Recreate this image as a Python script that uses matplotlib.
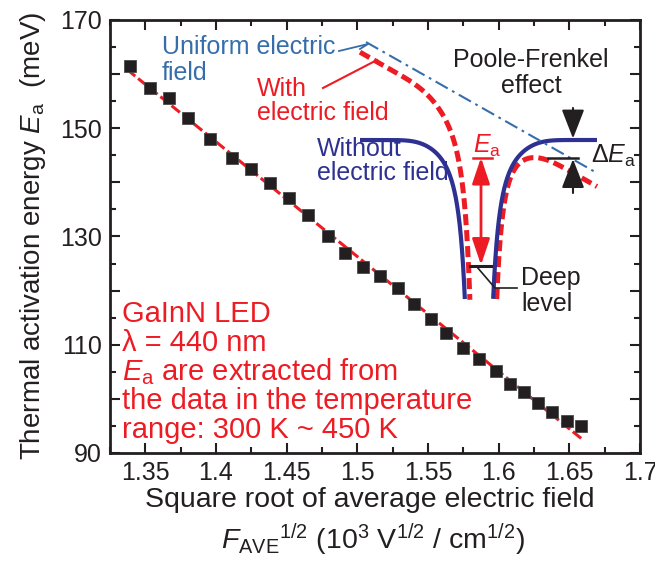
import numpy as np
import matplotlib
matplotlib.use("Agg")
import matplotlib.pyplot as plt
from matplotlib.ticker import FixedLocator, MultipleLocator
from matplotlib.patches import FancyArrowPatch

plt.rcParams['font.family'] = ['Liberation Sans', 'DejaVu Sans']
plt.rcParams['mathtext.fontset'] = 'custom'
plt.rcParams['mathtext.rm'] = 'Liberation Sans'
plt.rcParams['mathtext.it'] = 'Liberation Sans:italic'
plt.rcParams['mathtext.bf'] = 'Liberation Sans:bold'
plt.rcParams['mathtext.sf'] = 'Liberation Sans'

# Activation energy vs. square root of the average electric field
field_sqrt = [1.339, 1.353, 1.367, 1.380, 1.396, 1.411, 1.425, 1.438, 1.452,
              1.465, 1.479, 1.491, 1.504, 1.516, 1.529, 1.540, 1.552, 1.563,
              1.575, 1.586, 1.598, 1.608, 1.618, 1.628, 1.638, 1.648, 1.658]
act_energy = [161.5, 157.4, 155.6, 151.9, 148.0, 144.5, 142.5, 139.9, 137.1,
              134.0, 130.1, 126.9, 124.4, 122.7, 120.5, 117.5, 114.8, 112.2,
              109.4, 107.4, 105.2, 102.8, 101.3, 99.2, 97.6, 95.9, 95.0]

x_tick_values = [1.35, 1.40, 1.45, 1.50, 1.55, 1.60, 1.65, 1.70]
x_tick_labels = ['1.35', '1.4', '1.45', '1.5', '1.55', '1.6', '1.65', '1.7']
y_tick_values = [90, 100, 110, 120, 130, 140, 150, 160, 170]
y_tick_labels = ['90', '', '110', '', '130', '', '150', '', '170']

info_lines = ['GaInN LED', 'λ = 440 nm', r'$E_{\mathrm{a}}$ are extracted from',
              'the data in the temperature', 'range: 300 K ~ 450 K']

INK = '#231f20'
RED = '#ed1c24'
NAVY = '#2e3192'
STEEL = '#376eaa'
FS = 18        # tick labels and diagram text
FS_LABEL = 20.5
FS_INFO = 21

fig = plt.figure(figsize=(6.55, 5.61), dpi=100)
W, H = 655, 561
ax = fig.add_axes([110 / W, 1 - 453 / H, 530 / W, 433 / H])
ax.set_xlim(1.325, 1.70)
ax.set_ylim(90, 170)

# linear fit through the measured points
coef = np.polyfit(field_sqrt, act_energy, 1)
xf = np.array([min(field_sqrt) - 0.002, max(field_sqrt) + 0.002])
ax.plot(xf, np.polyval(coef, xf), color=RED, lw=2.2, dashes=(3.5, 1.2), zorder=2)
ax.plot(field_sqrt, act_energy, 's', ms=8.2, mfc=INK, mec='#4a4a4a', mew=0.6,
        zorder=3, clip_on=False)

ax.xaxis.set_major_locator(FixedLocator(x_tick_values))
ax.set_xticklabels(x_tick_labels)
ax.xaxis.set_minor_locator(MultipleLocator(0.025))
ax.yaxis.set_major_locator(FixedLocator(y_tick_values))
ax.set_yticklabels(y_tick_labels)
ax.yaxis.set_minor_locator(MultipleLocator(5))
ax.tick_params(which='both', direction='in', top=True, right=True,
               width=1.5, color=INK, labelsize=FS, labelcolor=INK)
ax.tick_params(which='major', length=7.5)
ax.tick_params(which='minor', length=4.5)
ax.tick_params(axis='x', pad=6)
ax.tick_params(axis='y', pad=6)
for s in ax.spines.values():
    s.set_linewidth(2.0)
    s.set_color(INK)

# overlay in figure pixel units for labels and the band diagram
ov = fig.add_axes([0, 0, 1, 1], zorder=5)
ov.set_xlim(0, W)
ov.set_ylim(H, 0)
ov.axis('off')
ov.patch.set_alpha(0)

ov.text(370, 507, 'Square root of average electric field', ha='center',
        va='baseline', fontsize=FS_LABEL, color=INK)
ov.text(373, 549, r'$F_{\mathrm{AVE}}{}^{1/2}$ (10$^3$ V$^{1/2}$ / cm$^{1/2}$)',
        ha='center', va='baseline', fontsize=FS_LABEL, color=INK)
ov.text(40, 236, r'Thermal activation energy $E_{\mathrm{a}}$  (meV)', rotation=90,
        rotation_mode='anchor', ha='center', va='baseline', fontsize=20, color=INK)

for i, line in enumerate(info_lines):
    ov.text(122, 322 + 29 * i, line, ha='left', va='baseline', fontsize=FS_INFO, color=RED)

# ---- band diagram of the trap (Poole-Frenkel lowering) ----
X0, X1 = 360.0, 597.0
BLUE_C, RED_C = 479.0, 483.0
LEVEL = 140.0
BOTTOM = 300.0
K_WELL, R_WELL = 32000.0, 58.0
xs = np.linspace(X0, X1, 4000)


def well(x, c):
    r = np.maximum(np.abs(x - c), 1e-6)
    return K_WELL / r ** 2 * np.exp(-(r / R_WELL) ** 4)


def field_line(x):
    return 50.0 + 0.567 * (x - 380.0)


blue = LEVEL + well(xs, BLUE_C)
red = field_line(xs) + 13.5 + well(xs, RED_C)
blue[blue > BOTTOM] = np.nan
red[red > BOTTOM] = np.nan

ov.plot(xs, red, color=RED, lw=3.6, dashes=(2.2, 1.0), zorder=2)
ov.plot(xs, blue, color=NAVY, lw=3.0, zorder=3, solid_capstyle='butt')
xl = np.linspace(366, X1, 2)
ov.plot(xl, field_line(xl), color=STEEL, lw=1.5, dashes=(6.7, 2.4, 1.3, 2.4), zorder=4)

right = xs > RED_C + 15
peak_y = np.nanmin(red[right])

# E_a arrow from the deep level to the lowered barrier
ov.plot([473, 492], [peak_y, peak_y], color=RED, lw=1.8, zorder=5)
ov.add_patch(FancyArrowPatch((481, peak_y), (481, 265),
                             arrowstyle='<|-|>,head_length=0.8,head_width=0.27',
                             mutation_scale=20, lw=2.0, color=RED, zorder=6,
                             shrinkA=0, shrinkB=0))
ov.text(487, 153, r'$E_{\mathrm{a}}$', ha='center', va='baseline', fontsize=FS, color=RED)

# deep level marker
ov.plot([470, 491], [266, 266], color=INK, lw=2.2, zorder=7)
ov.plot([477, 495, 517], [267, 288, 288], color=INK, lw=1.2, zorder=7)
ov.text(521, 285, 'Deep', ha='left', va='baseline', fontsize=FS, color=INK)
ov.text(521, 311, 'level', ha='left', va='baseline', fontsize=FS, color=INK)

# barrier lowering Delta E_a
ov.plot([548, 578], [peak_y, peak_y], color=INK, lw=1.8, zorder=5)
ov.add_patch(FancyArrowPatch((573, 108), (573, LEVEL - 1.5),
                             arrowstyle='-|>,head_length=0.9,head_width=0.35',
                             mutation_scale=20, lw=1.5, color=INK, zorder=6,
                             shrinkA=0, shrinkB=0))
ov.add_patch(FancyArrowPatch((573, 193), (573, peak_y + 1.5),
                             arrowstyle='-|>,head_length=0.9,head_width=0.35',
                             mutation_scale=20, lw=1.5, color=INK, zorder=6,
                             shrinkA=0, shrinkB=0))
ov.text(591, 163, r'$\Delta E_{\mathrm{a}}$', ha='left', va='baseline', fontsize=FS, color=INK)

ov.text(531, 67, 'Poole-Frenkel', ha='center', va='baseline', fontsize=FS, color=INK)
ov.text(531, 93, 'effect', ha='center', va='baseline', fontsize=FS, color=INK)

ov.text(162, 54, 'Uniform electric', ha='left', va='baseline', fontsize=FS, color=STEEL)
ov.text(162, 80, 'field', ha='left', va='baseline', fontsize=FS, color=STEEL)
ov.plot([339, 368, 360], [51, 44, 49], color=STEEL, lw=1.3, zorder=4)

ov.text(257, 96, 'With', ha='left', va='baseline', fontsize=FS, color=RED)
ov.text(257, 120, 'electric field', ha='left', va='baseline', fontsize=FS, color=RED)
ov.plot([323, 377], [88, 60], color=RED, lw=1.5, zorder=4)

ov.text(317, 156, 'Without', ha='left', va='baseline', fontsize=FS, color=NAVY)
ov.text(317, 180, 'electric field', ha='left', va='baseline', fontsize=FS, color=NAVY)

fig.savefig('out.png', dpi=100)
